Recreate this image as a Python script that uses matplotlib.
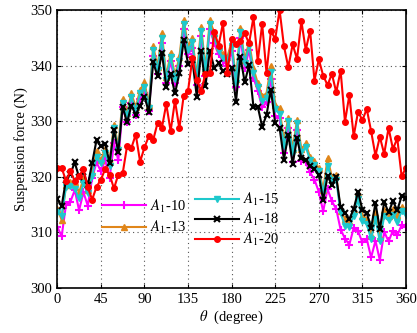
import numpy as np
import matplotlib
matplotlib.use("Agg")
import matplotlib.pyplot as plt

plt.rcParams['font.family'] = ['Liberation Serif', 'DejaVu Serif']
plt.rcParams['mathtext.fontset'] = 'stix'

# angle, one point every 4.5 degrees
theta = np.arange(81) * 4.5

# A1-10 (magenta)
a10 = [311.0, 309.3, 315.0, 315.5, 317.6, 314.0, 317.2, 314.8, 319.8, 322.6,
       321.0, 323.0, 319.8, 326.0, 323.0, 332.5, 329.8, 333.3, 331.2, 334.0,
       335.0, 331.8, 341.8, 338.5, 344.0, 336.8, 340.8, 336.9, 340.0, 346.5,
       342.0, 343.2, 336.5, 345.4, 338.2, 346.6, 344.0, 342.0, 340.8, 340.0,
       342.7, 336.2, 345.0, 339.6, 342.8, 337.8, 335.5, 332.5, 333.4, 337.6,
       331.0, 330.5, 324.2, 328.8, 322.6, 328.5, 322.8, 322.6, 320.8, 319.5,
       317.3, 313.8, 317.8, 315.6, 314.2, 310.5, 308.9, 307.8, 310.8, 310.2,
       308.2, 308.8, 305.5, 308.5, 305.0, 310.1, 308.4, 310.3, 309.5, 311.3,
       310.9]
# A1-13 (orange)
a13 = [314.2, 312.3, 318.6, 319.0, 319.0, 317.2, 319.6, 317.6, 320.8, 324.6,
       323.0, 325.0, 322.8, 329.4, 325.5, 334.0, 331.5, 335.0, 332.5, 335.6,
       337.0, 333.0, 343.5, 339.8, 345.8, 338.0, 342.3, 338.2, 341.5, 348.2,
       343.5, 344.9, 338.0, 347.0, 339.5, 348.2, 345.8, 343.4, 342.0, 341.5,
       344.3, 337.5, 346.7, 341.0, 344.3, 339.5, 336.8, 334.5, 335.0, 340.0,
       333.0, 332.3, 326.5, 330.6, 325.0, 330.2, 325.0, 326.0, 323.5, 322.8,
       321.5, 317.6, 323.3, 320.0, 320.3, 313.8, 312.5, 312.0, 314.0, 317.0,
       313.0, 312.5, 309.5, 313.5, 309.2, 314.0, 313.0, 314.2, 313.2, 314.6,
       314.0]
# A1-15 (cyan)
a15 = [313.6, 313.0, 318.2, 318.3, 317.8, 316.1, 318.8, 317.0, 320.2, 323.6,
       322.4, 324.3, 322.0, 328.8, 324.8, 333.3, 331.0, 334.3, 332.0, 335.0,
       336.2, 332.4, 342.8, 339.2, 345.0, 337.4, 341.6, 337.6, 340.8, 347.4,
       342.8, 344.2, 337.3, 346.2, 338.8, 347.4, 345.0, 342.7, 341.4, 340.8,
       343.6, 336.8, 346.0, 340.4, 343.6, 338.6, 336.2, 333.6, 334.2, 338.8,
       332.2, 331.3, 325.6, 330.0, 324.2, 329.6, 324.4, 325.4, 323.0, 322.2,
       321.0, 317.0, 322.0, 319.5, 319.5, 313.5, 311.2, 311.0, 313.0, 316.0,
       312.0, 311.5, 308.8, 312.5, 308.4, 313.0, 312.2, 313.2, 311.9, 313.8,
       313.1]
# A1-18 (black)
a18 = [316.0, 314.7, 319.5, 320.5, 322.6, 319.9, 320.8, 318.5, 322.5, 326.6,
       325.5, 325.9, 322.5, 328.4, 324.5, 332.6, 329.8, 332.8, 331.2, 332.8,
       334.4, 331.7, 340.6, 338.1, 342.3, 336.2, 338.5, 335.0, 338.6, 344.6,
       340.3, 341.0, 334.4, 342.6, 336.4, 342.7, 339.6, 340.4, 339.0, 338.5,
       339.6, 333.5, 341.6, 337.0, 340.1, 332.6, 332.6, 329.0, 331.1, 335.7,
       329.6, 328.8, 323.1, 327.6, 322.3, 326.9, 323.4, 323.0, 322.0, 321.4,
       320.3, 315.8, 320.1, 318.6, 319.9, 314.5, 313.5, 312.4, 314.2, 317.3,
       314.1, 313.5, 310.8, 315.3, 310.6, 315.5, 313.6, 315.6, 314.0, 316.5,
       316.2]
# A1-20 (red)
a20 = [321.6, 321.6, 319.3, 321.0, 319.3, 320.1, 321.4, 318.1, 315.9, 318.2,
       319.5, 321.4, 320.4, 317.9, 320.4, 320.6, 325.5, 325.2, 327.6, 322.7,
       325.3, 327.3, 326.6, 329.7, 328.8, 333.1, 328.2, 333.7, 328.7, 334.6,
       335.5, 341.3, 337.4, 335.5, 338.5, 338.6, 346.1, 343.6, 347.6, 338.6,
       344.7, 343.8, 344.5, 345.8, 344.0, 348.7, 340.8, 347.5, 338.7, 346.2,
       344.8, 350.0, 343.5, 339.7, 343.8, 341.2, 348.0, 342.8, 346.3, 337.3,
       341.1, 338.2, 336.5, 338.5, 335.2, 339.1, 329.9, 334.7, 327.3, 331.7,
       330.2, 332.2, 328.2, 323.8, 327.2, 324.1, 328.8, 325.0, 326.9, 320.1,
       321.6]

fig = plt.figure(figsize=(4.17, 3.33), dpi=100)
ax = fig.add_axes([0.1374, 0.1351, 0.8362, 0.8349])

l10, = ax.plot(theta, a10, color='#ff00ff', lw=1.5, marker='+', ms=6, mew=1.5)
l13, = ax.plot(theta, a13, color='#e0861a', lw=1.5, marker='^', ms=5)
l15, = ax.plot(theta, a15, color='#1ec8cc', lw=1.5, marker='v', ms=5)
l18, = ax.plot(theta, a18, color='black', lw=1.5, marker='x', ms=5, mew=1.5)
l20, = ax.plot(theta, a20, color='#ff0000', lw=1.5, marker='o', ms=4)

ax.set_xlim(0, 360)
ax.set_ylim(300, 350)
ax.set_xticks(np.arange(0, 361, 45))
ax.set_yticks(np.arange(300, 351, 10))
ax.tick_params(direction='in', top=True, right=True, labelsize=10.5, length=3)
ax.grid(True, linestyle=(0, (1, 3)), color='#555555', linewidth=0.8)
for s in ax.spines.values():
    s.set_linewidth(1.2)

ax.set_xlabel(r'$\theta$  (degree)', fontsize=10.5, labelpad=2)
ax.set_ylabel('Suspension force (N)', fontsize=10.5, labelpad=2)

leg1 = ax.legend([l10, l13], [r'$A_1$-10', r'$A_1$-13'], loc='center left',
                 bbox_to_anchor=(0.128, 0.256), frameon=False, fontsize=10.5,
                 handlelength=3.0, handletextpad=0.3, labelspacing=0.3,
                 borderpad=0, borderaxespad=0)
ax.add_artist(leg1)
ax.legend([l15, l18, l20], [r'$A_1$-15', r'$A_1$-18', r'$A_1$-20'], loc='center left',
          bbox_to_anchor=(0.395, 0.246), frameon=False, fontsize=10.5,
          handlelength=3.0, handletextpad=0.3, labelspacing=0.2,
          borderpad=0, borderaxespad=0)

fig.savefig('out.png', dpi=100)
